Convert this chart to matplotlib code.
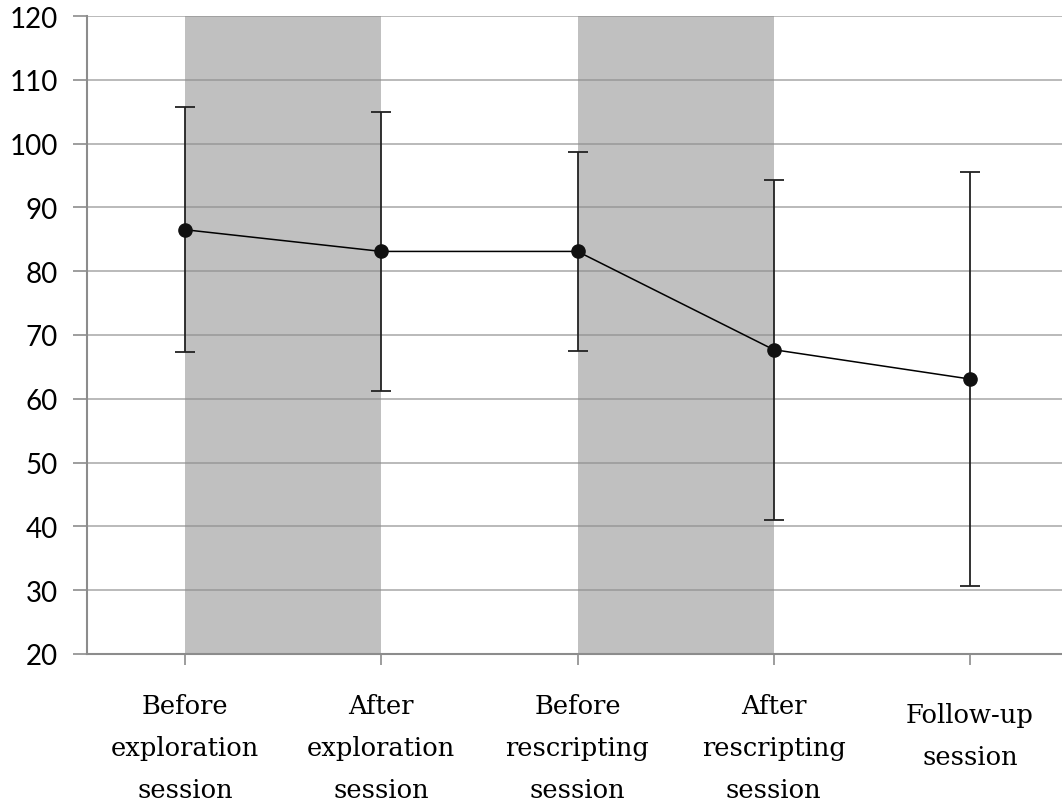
import matplotlib.pyplot as plt
import numpy as np

# data
labels = ['Before\nexploration\nsession', 'After\nexploration\nsession',
          'Before\nrescripting\nsession', 'After\nrescripting\nsession',
          'Follow-up\nsession']
means = [86.5, 83.1, 83.1, 67.7, 63.1]
upper = [105.7, 105.0, 98.7, 94.3, 95.5]
lower = [67.3, 61.3, 67.5, 41.0, 30.7]
bands = [(0, 1), (2, 3)]   # shaded session spans (category index)

x = np.arange(len(means))
err = [np.array(means) - np.array(lower), np.array(upper) - np.array(means)]

fig = plt.figure(figsize=(10.62, 8.03), dpi=100)
# axes runs a little past the right edge, like the original
ax = fig.add_axes([87/1062, 148/803, 981/1062, 638/803])

for a, b in bands:
    ax.fill_between([a, b], 20, 120, color='#c0c0c0', lw=0, zorder=0)

ax.set_ylim(20, 120)
ax.set_xlim(-0.5, 4.5)
ax.set_yticks(range(20, 121, 10))
ax.grid(axis='y', color='#8c8c8c', lw=1.2, alpha=0.7, zorder=1)
ax.set_axisbelow(False)

ax.errorbar(x, means, yerr=err, fmt='none', ecolor='#222222', elinewidth=1.3,
            capsize=7.5, capthick=1.3, zorder=3)
ax.plot(x, means, color='black', lw=1.1, marker='o', markersize=9.5,
        markerfacecolor='#111111', markeredgecolor='#111111', zorder=4)

for s in ['top', 'right']:
    ax.spines[s].set_visible(False)
for s in ['left', 'bottom']:
    ax.spines[s].set_color('#8c8c8c')
    ax.spines[s].set_linewidth(1.5)

ax.tick_params(axis='y', length=10, color='#8c8c8c', width=1.2, labelsize=20, pad=11)
ax.tick_params(axis='x', length=8, color='#8c8c8c', width=1.2)
ax.set_xticks(x)
ax.set_xticklabels([])
for t in ax.get_yticklabels():
    t.set_family('Lato')

# category labels under each tick
for xi, lab in zip(x, labels):
    yc = -0.146 if lab.count('\n') == 2 else -0.128
    ax.text(xi, yc, lab, transform=ax.get_xaxis_transform(), ha='center',
            va='center', fontsize=18.5, family='DejaVu Serif', linespacing=1.85)

fig.savefig('out.png', dpi=100)
